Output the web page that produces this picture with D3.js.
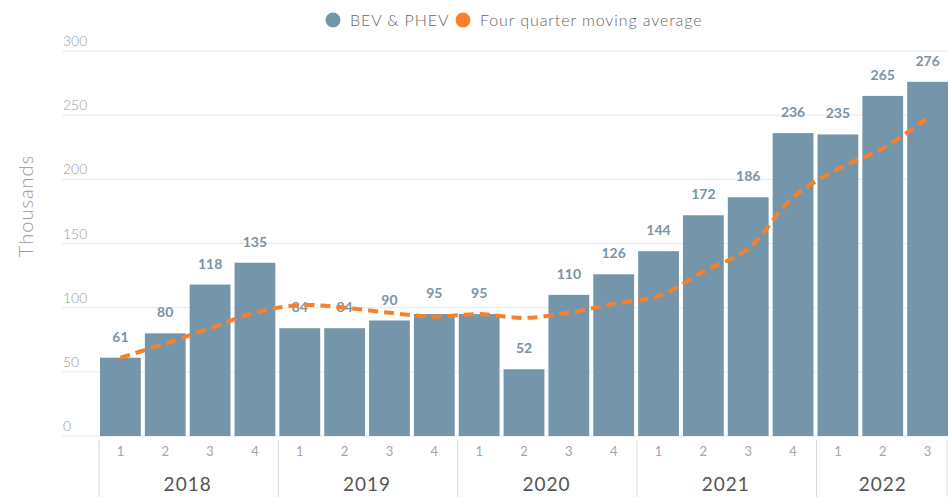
<!DOCTYPE html>
<html>
<head>
<meta charset="utf-8">
<script src="https://cdn.jsdelivr.net/npm/d3@7"></script>
<style>
  body { margin: 0; background: #fff; }
  svg { font-family: Lato, "Open Sans", sans-serif; }
</style>
</head>
<body>
<div id="chart"></div>
<script>
// Quarterly sales (thousands)
const years = ["2018", "2019", "2020", "2021", "2022"];
const quarters = ["1", "2", "3", "4"];
const periods = [
  "2018-1", "2018-2", "2018-3", "2018-4",
  "2019-1", "2019-2", "2019-3", "2019-4",
  "2020-1", "2020-2", "2020-3", "2020-4",
  "2021-1", "2021-2", "2021-3", "2021-4",
  "2022-1", "2022-2", "2022-3"
];
const sales = [61, 80, 118, 135, 84, 84, 90, 95, 95, 52, 110, 126, 144, 172, 186, 236, 235, 265, 276];
const movingAvg = [61, 72, 84, 96, 102, 100, 96, 93, 95, 92, 96, 103, 109, 128, 146, 186, 208, 224, 248];
const yTicks = [0, 50, 100, 150, 200, 250, 300];

const width = 948, height = 497;
const barColor = "#7596aa";
const lineColor = "#f7802b";

const svg = d3.select("#chart").append("svg")
  .attr("width", width)
  .attr("height", height);

const x = d3.scaleBand()
  .domain(periods)
  .range([100, 948])
  .paddingInner(0.09)
  .paddingOuter(0.0);

const y = d3.scaleLinear()
  .domain([0, 300])
  .range([436, 51]);

// gridlines + y labels
const grid = svg.append("g");
grid.selectAll("line")
  .data(yTicks)
  .enter().append("line")
  .attr("x1", 62)
  .attr("x2", width)
  .attr("y1", d => y(d))
  .attr("y2", d => y(d))
  .attr("stroke", "#e8e8e8")
  .attr("stroke-width", 1);
grid.selectAll("text")
  .data(yTicks)
  .enter().append("text")
  .attr("x", 63)
  .attr("y", d => y(d) - 5)
  .attr("fill", "#9a9a9a")
  .style("font-size", "14px")
  .style("font-weight", 300)
  .text(d => d);

// y axis title
svg.append("text")
  .attr("transform", "translate(33,206) rotate(-90)")
  .attr("text-anchor", "middle")
  .attr("fill", "#9a9a9a")
  .style("font-size", "20px")
  .style("font-weight", 300)
  .style("letter-spacing", "1px")
  .text("Thousands");

// bars
svg.append("g").selectAll("rect")
  .data(sales)
  .enter().append("rect")
  .attr("x", (d, i) => x(periods[i]))
  .attr("width", x.bandwidth())
  .attr("y", d => y(d))
  .attr("height", d => y(0) - y(d))
  .attr("fill", barColor);

// value labels
svg.append("g").selectAll("text")
  .data(sales)
  .enter().append("text")
  .attr("x", (d, i) => x(periods[i]) + x.bandwidth() / 2)
  .attr("y", d => y(d) - 16)
  .attr("text-anchor", "middle")
  .attr("fill", "#7a93a6")
  .style("font-size", "14px")
  .style("font-weight", 700)
  .text(d => d);

// moving average line
const line = d3.line()
  .x((d, i) => x(periods[i]) + x.bandwidth() / 2)
  .y(d => y(d))
  .curve(d3.curveCatmullRom.alpha(0.5));

svg.append("path")
  .datum(movingAvg)
  .attr("d", line)
  .attr("fill", "none")
  .attr("stroke", lineColor)
  .attr("stroke-width", 4)
  .attr("stroke-dasharray", "10,6");

// x axis: quarter labels, year labels, separators
const step = x.step();
const gap = step * x.paddingInner();
svg.append("g").selectAll("text")
  .data(periods)
  .enter().append("text")
  .attr("x", d => x(d) + x.bandwidth() / 2)
  .attr("y", 456)
  .attr("text-anchor", "middle")
  .attr("fill", "#a5a5a5")
  .style("font-size", "13px")
  .style("font-weight", 400)
  .text(d => d.split("-")[1]);

const yearStart = yr => periods.findIndex(p => p.startsWith(yr));
const yearEnd = yr => periods.length - 1 - [...periods].reverse().findIndex(p => p.startsWith(yr));

const sepX = years.map(yr => x(periods[yearStart(yr)]) - gap / 2 + 1);
sepX.push(x(periods[periods.length - 1]) + x.bandwidth() - 1);
svg.append("g").selectAll("line")
  .data(sepX)
  .enter().append("line")
  .attr("x1", d => d)
  .attr("x2", d => d)
  .attr("y1", 440)
  .attr("y2", height)
  .attr("stroke", "#dcdcdc")
  .attr("stroke-width", 1);

svg.append("g").selectAll("text")
  .data(years)
  .enter().append("text")
  .attr("x", yr => (x(periods[yearStart(yr)]) + x(periods[yearEnd(yr)]) + x.bandwidth()) / 2)
  .attr("y", 491)
  .attr("text-anchor", "middle")
  .attr("fill", "#555")
  .style("font-size", "19px")
  .style("font-weight", 400)
  .style("letter-spacing", "1px")
  .text(d => d);

// legend
const legend = svg.append("g").attr("transform", "translate(333,20)");
const legendItems = [
  { label: "BEV & PHEV", color: barColor, dx: 0 },
  { label: "Four quarter moving average", color: lineColor, dx: 130 }
];
legendItems.forEach(item => {
  const g = legend.append("g").attr("transform", `translate(${item.dx},0)`);
  g.append("circle").attr("r", 7.5).attr("fill", item.color);
  g.append("text")
    .attr("x", 17)
    .attr("y", 5.5)
    .attr("fill", "#666")
    .style("font-size", "16px")
    .style("font-weight", 300)
    .style("letter-spacing", "0.9px")
    .text(item.label);
});
</script>
</body>
</html>
